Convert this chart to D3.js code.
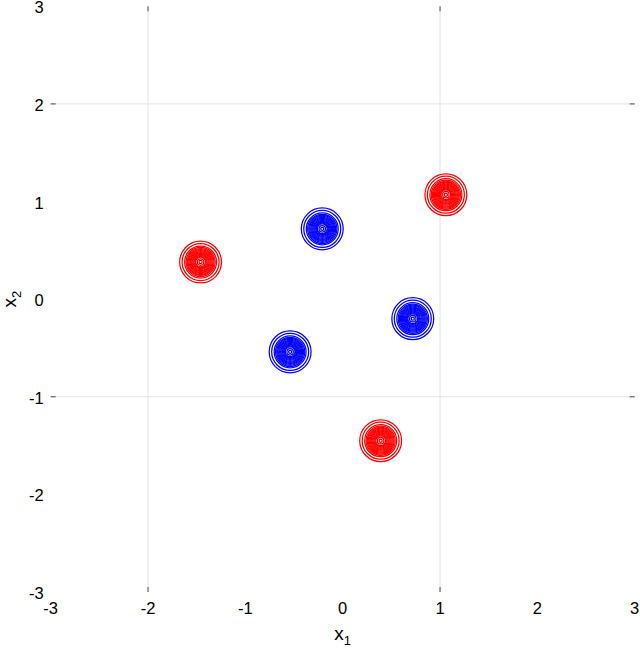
<!DOCTYPE html>
<html>
<head>
<meta charset="utf-8">
<script src="https://cdn.jsdelivr.net/npm/d3@7"></script>
<style>
  body { margin: 0; background: #fff; }
  svg { font-family: "Liberation Sans", Arial, sans-serif; }
</style>
</head>
<body>
<div id="chart"></div>
<script>
// blob centres
const redCenters = [[1.06, 1.07], [-1.46, 0.38], [0.39, -1.45]];
const blueCenters = [[-0.21, 0.72], [0.72, -0.2], [-0.54, -0.54]];
// contour ring radii (data units), outermost first
const ringRadii = [0.215, 0.19, 0.164, 0.15, 0.138, 0.128, 0.118, 0.108, 0.098, 0.088,
  0.078, 0.068, 0.058, 0.05, 0.033, 0.016];
const tickValues = [-3, -2, -1, 0, 1, 2, 3];
const gridX = [-2, 1];
const gridY = [2, -1];

const width = 640, height = 650;
const margin = { top: 6.3, right: 5.3, bottom: 58, left: 50.7 };

const svg = d3.select(`#chart`).append(`svg`)
  .attr(`width`, width)
  .attr(`height`, height);

const x = d3.scaleLinear().domain([-3, 3]).range([margin.left, width - margin.right]);
const y = d3.scaleLinear().domain([-3, 3]).range([height - margin.bottom, margin.top]);

// grid
svg.append(`g`).selectAll(`line`)
  .data(gridX)
  .enter().append(`line`)
    .attr(`x1`, (d) => x(d)).attr(`x2`, (d) => x(d))
    .attr(`y1`, y(3)).attr(`y2`, y(-3))
    .attr(`stroke`, `#e3e3e3`);
svg.append(`g`).selectAll(`line`)
  .data(gridY)
  .enter().append(`line`)
    .attr(`y1`, (d) => y(d)).attr(`y2`, (d) => y(d))
    .attr(`x1`, x(-3)).attr(`x2`, x(3))
    .attr(`stroke`, `#e3e3e3`);

// little inward ticks on every side, only at the grid lines
const tickLen = 5;
const tickColor = `#4d4d4d`;
gridX.forEach((v) => {
  svg.append(`line`).attr(`x1`, x(v)).attr(`x2`, x(v))
    .attr(`y1`, y(-3)).attr(`y2`, y(-3) - tickLen).attr(`stroke`, tickColor);
  svg.append(`line`).attr(`x1`, x(v)).attr(`x2`, x(v))
    .attr(`y1`, y(3)).attr(`y2`, y(3) + tickLen).attr(`stroke`, tickColor);
});
gridY.forEach((v) => {
  svg.append(`line`).attr(`y1`, y(v)).attr(`y2`, y(v))
    .attr(`x1`, x(-3)).attr(`x2`, x(-3) + tickLen).attr(`stroke`, tickColor);
  svg.append(`line`).attr(`y1`, y(v)).attr(`y2`, y(v))
    .attr(`x1`, x(3)).attr(`x2`, x(3) - tickLen).attr(`stroke`, tickColor);
});

// tick labels
svg.append(`g`).selectAll(`text`)
  .data(tickValues)
  .enter().append(`text`)
    .attr(`x`, (d) => x(d))
    .attr(`y`, y(-3) + 22)
    .attr(`text-anchor`, `middle`)
    .attr(`font-size`, 16.5)
    .text((d) => d);
svg.append(`g`).selectAll(`text`)
  .data(tickValues)
  .enter().append(`text`)
    .attr(`x`, x(-3) - 7)
    .attr(`y`, (d) => y(d) + 7)
    .attr(`text-anchor`, `end`)
    .attr(`font-size`, 16.5)
    .text((d) => d);

// axis labels
const xl = svg.append(`text`)
  .attr(`x`, x(0))
  .attr(`y`, 640)
  .attr(`text-anchor`, `middle`)
  .attr(`font-size`, 19);
xl.append(`tspan`).text(`x`);
xl.append(`tspan`).attr(`font-size`, 13).attr(`dy`, 5).text(`1`);

const yl = svg.append(`text`)
  .attr(`transform`, `translate(16,${y(0)}) rotate(-90)`)
  .attr(`text-anchor`, `middle`)
  .attr(`font-size`, 19);
yl.append(`tspan`).text(`x`);
yl.append(`tspan`).attr(`font-size`, 13).attr(`dy`, 5).text(`2`);

// contour blobs
const drawBlobs = (centers, color) => {
  const g = svg.append(`g`);
  centers.forEach((c) => {
    g.selectAll(null)
      .data(ringRadii)
      .enter().append(`circle`)
        .attr(`cx`, x(c[0]))
        .attr(`cy`, y(c[1]))
        .attr(`r`, (d) => x(d) - x(0))
        .attr(`fill`, `none`)
        .attr(`stroke`, color)
        .attr(`stroke-width`, 1.25);
  });
};
drawBlobs(redCenters, `#ff0000`);
drawBlobs(blueCenters, `#0000ff`);
</script>
</body>
</html>
